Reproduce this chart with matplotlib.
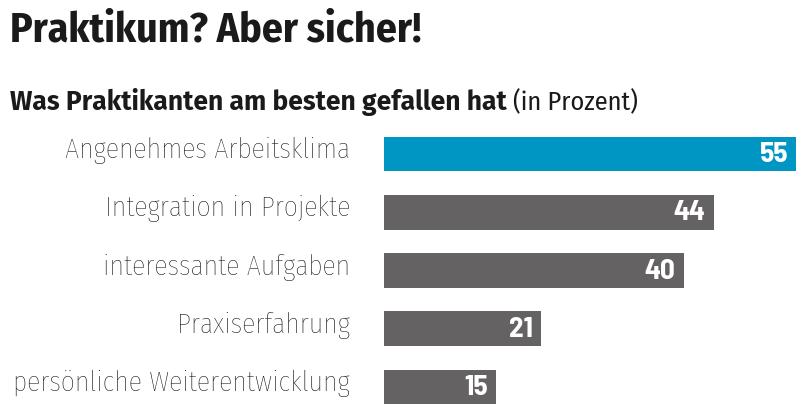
import matplotlib
matplotlib.use("Agg")
import matplotlib.pyplot as plt

# Data
categories = ["Angenehmes Arbeitsklima", "Integration in Projekte",
              "interessante Aufgaben", "Praxiserfahrung",
              "persönliche Weiterentwicklung"]
values = [55, 44, 40, 21, 15]

title = "Praktikum? Aber sicher!"
subtitle = "Was Praktikanten am besten gefallen hat"
unit = "(in Prozent)"

blue = "#0096c4"
grey = "#656263"
cond = ["Fira Sans Condensed", "DejaVu Sans"]
wide = ["Fira Sans", "DejaVu Sans"]
numfont = ["Barlow Semi Condensed", "DejaVu Sans"]

W, H = 804, 414
fig = plt.figure(figsize=(W / 100, H / 100), dpi=100)

# Axes placed in pixel terms: bars start at x=384, 55 ends at x=796
ax = fig.add_axes([384 / W, 0, (796 - 384) / W, (414 - 126) / H])
colors = [blue] + [grey] * (len(values) - 1)
ypos = list(range(len(values)))
ax.barh(ypos, values, height=0.6, color=colors)
ax.set_xlim(0, 55)
ax.set_ylim(4.446, -0.498)
ax.axis("off")

for y, v, cat in zip(ypos, values, categories):
    ax.annotate(str(v), xy=(v, y), xytext=(-8, -7), textcoords="offset pixels",
                ha="right", va="baseline", color="white",
                fontsize=21, fontweight="bold", family=numfont)
    # category label, right aligned left of the bars
    ax.annotate(cat, xy=(0, y), xytext=(-34, -3), textcoords="offset pixels",
                ha="right", va="baseline", color="#111111",
                fontsize=20, fontweight="light", family=cond)

# Titles
fig.text(10 / W, 1 - 42 / H, title, fontsize=30, fontweight="bold",
         family=cond, color="#1a1a1a", va="baseline")
t = fig.text(10 / W, 1 - 110 / H, subtitle, fontsize=19, fontweight="bold",
             family=wide, color="#1a1a1a", va="baseline")
fig.canvas.draw()
bb = t.get_window_extent()
fig.text((bb.x1 + 6) / W, 1 - 110 / H, unit, fontsize=19,
         family=cond, color="#1a1a1a", va="baseline")

fig.savefig("out.png", dpi=100)
